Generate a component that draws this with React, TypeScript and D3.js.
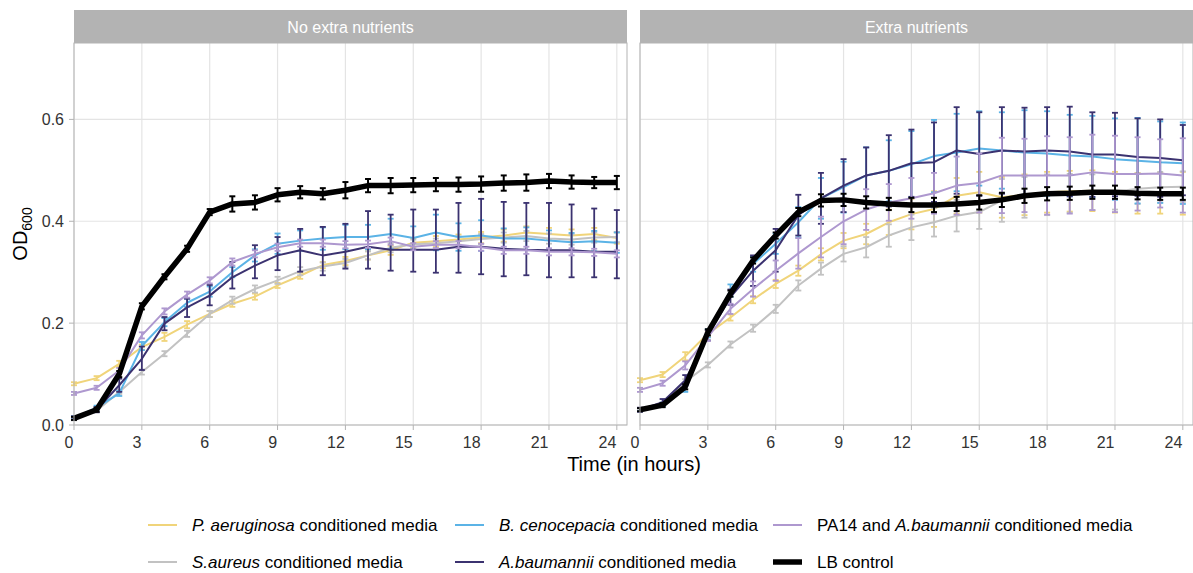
import React from "react";
import * as d3 from "d3";

const hours = d3.range(0, 25);
const panelTitles = ["No extra nutrients", "Extra nutrients"];
const xTicks = [0, 3, 6, 9, 12, 15, 18, 21, 24];
const yTicks = [0, 0.2, 0.4, 0.6];

// ---- No extra nutrients ----
const paerL = [0.081, 0.092, 0.12, 0.153, 0.173, 0.197, 0.218, 0.238, 0.252, 0.274, 0.293, 0.314, 0.322, 0.333, 0.343, 0.358, 0.361, 0.364, 0.368, 0.372, 0.378, 0.375, 0.372, 0.375, 0.367];
const paerLsd = [0.003, 0.004, 0.006, 0.005, 0.008, 0.007, 0.006, 0.006, 0.006, 0.005, 0.006, 0.006, 0.008, 0.008, 0.009, 0.009, 0.01, 0.01, 0.011, 0.012, 0.012, 0.012, 0.012, 0.012, 0.011];
const saurL = [0.012, 0.028, 0.065, 0.104, 0.14, 0.179, 0.218, 0.245, 0.267, 0.284, 0.302, 0.311, 0.318, 0.333, 0.348, 0.355, 0.357, 0.361, 0.365, 0.368, 0.371, 0.366, 0.364, 0.368, 0.369];
const saurLsd = [0.003, 0.003, 0.004, 0.005, 0.005, 0.006, 0.006, 0.007, 0.007, 0.007, 0.008, 0.008, 0.008, 0.008, 0.009, 0.009, 0.009, 0.009, 0.01, 0.01, 0.01, 0.01, 0.01, 0.01, 0.01];
const bcenL = [0.014, 0.034, 0.062, 0.155, 0.202, 0.24, 0.262, 0.3, 0.333, 0.356, 0.362, 0.366, 0.369, 0.369, 0.375, 0.367, 0.378, 0.369, 0.372, 0.366, 0.366, 0.362, 0.359, 0.361, 0.358];
const bcenLsd = [0.003, 0.004, 0.005, 0.008, 0.008, 0.008, 0.01, 0.01, 0.012, 0.02, 0.02, 0.022, 0.024, 0.024, 0.03, 0.023, 0.035, 0.027, 0.03, 0.02, 0.022, 0.02, 0.018, 0.02, 0.02];
const abauL = [0.014, 0.03, 0.078, 0.13, 0.199, 0.231, 0.254, 0.29, 0.313, 0.333, 0.343, 0.333, 0.34, 0.35, 0.344, 0.344, 0.344, 0.35, 0.35, 0.346, 0.344, 0.343, 0.343, 0.34, 0.34];
const abauLhi = [0.017, 0.035, 0.091, 0.154, 0.212, 0.248, 0.275, 0.32, 0.353, 0.369, 0.385, 0.389, 0.395, 0.42, 0.413, 0.423, 0.423, 0.436, 0.444, 0.438, 0.436, 0.436, 0.433, 0.425, 0.422];
const abauLlo = [0.011, 0.025, 0.065, 0.108, 0.186, 0.212, 0.235, 0.268, 0.288, 0.304, 0.301, 0.294, 0.307, 0.307, 0.303, 0.301, 0.299, 0.299, 0.296, 0.292, 0.294, 0.29, 0.29, 0.29, 0.288];
const mixL = [0.062, 0.073, 0.107, 0.176, 0.223, 0.256, 0.284, 0.32, 0.336, 0.349, 0.357, 0.357, 0.354, 0.355, 0.361, 0.35, 0.354, 0.354, 0.349, 0.343, 0.343, 0.34, 0.34, 0.339, 0.336];
const mixLsd = [0.003, 0.004, 0.005, 0.006, 0.006, 0.006, 0.006, 0.007, 0.007, 0.007, 0.007, 0.007, 0.007, 0.007, 0.007, 0.007, 0.007, 0.007, 0.007, 0.007, 0.007, 0.007, 0.007, 0.007, 0.007];
const lbL = [0.013, 0.03, 0.1, 0.233, 0.291, 0.346, 0.418, 0.434, 0.437, 0.452, 0.457, 0.454, 0.461, 0.47, 0.47, 0.471, 0.472, 0.472, 0.473, 0.475, 0.476, 0.479, 0.477, 0.476, 0.476];
const lbLsd = [0.003, 0.004, 0.006, 0.006, 0.005, 0.006, 0.006, 0.015, 0.014, 0.013, 0.012, 0.011, 0.016, 0.013, 0.015, 0.014, 0.013, 0.014, 0.015, 0.015, 0.016, 0.014, 0.013, 0.011, 0.013];

// ---- Extra nutrients ----
const paerR = [0.088, 0.099, 0.135, 0.179, 0.211, 0.246, 0.277, 0.303, 0.335, 0.362, 0.375, 0.398, 0.414, 0.424, 0.45, 0.457, 0.447, 0.452, 0.457, 0.459, 0.46, 0.457, 0.455, 0.455, 0.455];
const paerRsd = [0.004, 0.005, 0.008, 0.006, 0.006, 0.007, 0.008, 0.01, 0.012, 0.015, 0.02, 0.025, 0.03, 0.035, 0.035, 0.04, 0.04, 0.04, 0.04, 0.04, 0.04, 0.04, 0.04, 0.04, 0.042];
const saurR = [0.03, 0.04, 0.085, 0.118, 0.158, 0.19, 0.228, 0.274, 0.307, 0.336, 0.349, 0.372, 0.388, 0.398, 0.411, 0.418, 0.441, 0.447, 0.452, 0.455, 0.457, 0.458, 0.464, 0.467, 0.468];
const saurRsd = [0.003, 0.004, 0.005, 0.005, 0.006, 0.007, 0.008, 0.01, 0.012, 0.015, 0.02, 0.022, 0.025, 0.028, 0.031, 0.033, 0.042, 0.04, 0.04, 0.038, 0.035, 0.035, 0.03, 0.03, 0.03];
const bcenR = [0.03, 0.04, 0.071, 0.18, 0.264, 0.316, 0.356, 0.398, 0.445, 0.467, 0.49, 0.499, 0.512, 0.528, 0.535, 0.543, 0.539, 0.535, 0.533, 0.529, 0.527, 0.522, 0.519, 0.516, 0.514];
const bcenRsd = [0.003, 0.004, 0.006, 0.008, 0.012, 0.015, 0.02, 0.03, 0.04, 0.05, 0.055, 0.06, 0.065, 0.071, 0.076, 0.073, 0.075, 0.083, 0.083, 0.08, 0.08, 0.08, 0.084, 0.08, 0.08];
const abauR = [0.03, 0.045, 0.088, 0.176, 0.251, 0.303, 0.343, 0.412, 0.445, 0.47, 0.49, 0.499, 0.514, 0.516, 0.539, 0.532, 0.539, 0.537, 0.539, 0.537, 0.531, 0.531, 0.526, 0.524, 0.52];
const abauRsd = [0.004, 0.006, 0.01, 0.01, 0.015, 0.03, 0.042, 0.04, 0.05, 0.052, 0.055, 0.07, 0.066, 0.078, 0.085, 0.082, 0.085, 0.086, 0.085, 0.088, 0.083, 0.082, 0.076, 0.076, 0.069];
const mixR = [0.069, 0.082, 0.117, 0.173, 0.228, 0.267, 0.303, 0.337, 0.369, 0.4, 0.423, 0.437, 0.445, 0.455, 0.47, 0.475, 0.49, 0.49, 0.49, 0.49, 0.496, 0.493, 0.493, 0.494, 0.49];
const mixRsd = [0.004, 0.005, 0.008, 0.008, 0.01, 0.015, 0.02, 0.03, 0.04, 0.045, 0.04, 0.036, 0.04, 0.04, 0.057, 0.058, 0.074, 0.072, 0.077, 0.075, 0.074, 0.075, 0.072, 0.067, 0.073];
const lbR = [0.03, 0.039, 0.075, 0.182, 0.258, 0.323, 0.372, 0.418, 0.441, 0.442, 0.437, 0.434, 0.432, 0.432, 0.434, 0.437, 0.442, 0.45, 0.454, 0.455, 0.457, 0.457, 0.455, 0.454, 0.454];
const lbRsd = [0.003, 0.004, 0.005, 0.006, 0.006, 0.006, 0.006, 0.008, 0.012, 0.012, 0.012, 0.012, 0.014, 0.014, 0.014, 0.014, 0.014, 0.014, 0.013, 0.013, 0.013, 0.013, 0.012, 0.012, 0.012];

const seriesNames = ["paer", "saur", "bcen", "abau", "mix", "lb"];
const seriesColors = ["#F0D47A", "#C2C2C2", "#5BB3E6", "#3B3270", "#AE98CF", "#000000"];
const seriesWidths = [2, 2, 2, 2, 2, 5.5];
const panelMeans = [
  [paerL, saurL, bcenL, abauL, mixL, lbL],
  [paerR, saurR, bcenR, abauR, mixR, lbR],
];
const panelSds = [
  [paerLsd, saurLsd, bcenLsd, null, mixLsd, lbLsd],
  [paerRsd, saurRsd, bcenRsd, abauRsd, mixRsd, lbRsd],
];
const panelHi = [
  [null, null, null, abauLhi, null, null],
  [null, null, null, null, null, null],
];
const panelLo = [
  [null, null, null, abauLlo, null, null],
  [null, null, null, null, null, null],
];

const legendLabels = [
  [{ t: "P. aeruginosa", i: true }, { t: " conditioned media", i: false }],
  [{ t: "S.aureus", i: true }, { t: " conditioned media", i: false }],
  [{ t: "B. cenocepacia", i: true }, { t: " conditioned media", i: false }],
  [{ t: "A.baumannii", i: true }, { t: " conditioned media", i: false }],
  [{ t: "PA14 and ", i: false }, { t: "A.baumannii", i: true }, { t: " conditioned media", i: false }],
  [{ t: "LB control", i: false }],
];

const FONT = "'Liberation Sans', Arial, Helvetica, sans-serif";

export default function App() {
  const W = 1193;
  const H = 573;
  const panelX = [74, 640];
  const panelW = 553;
  const top = 43;
  const bottom = 425;
  const y = d3.scaleLinear().domain([0, 0.75]).range([bottom, top]);

  const legendCols = [148, 455, 773];
  const legendRows = [525, 562];

  return (
    <svg
      width={W}
      height={H}
      style={{ position: "absolute", left: 0, top: 0, background: "#fff" }}
      fontFamily={FONT}
    >
      {panelTitles.map((title, p) => {
        const x = d3.scaleLinear().domain([0, 24.45]).range([panelX[p], panelX[p] + panelW]);
        const means = panelMeans[p];
        return (
          <g key={title}>
            <rect x={panelX[p]} y={10} width={panelW} height={top - 10} fill="#b3b3b3" />
            <text
              x={panelX[p] + panelW / 2}
              y={27}
              fill="#ffffff"
              fontSize={16}
              textAnchor="middle"
              dominantBaseline="central"
            >
              {title}
            </text>
            {xTicks.map((t) => (
              <line key={"gx" + t} x1={x(t)} x2={x(t)} y1={top} y2={bottom} stroke="#e4e4e4" strokeWidth={1.2} />
            ))}
            {yTicks.map((t) => (
              <line key={"gy" + t} x1={panelX[p]} x2={panelX[p] + panelW} y1={y(t)} y2={y(t)} stroke="#e4e4e4" strokeWidth={1.2} />
            ))}
            {seriesNames.map((s, si) => {
              const line = d3
                .line<number>()
                .x((_, i) => x(hours[i]))
                .y((v) => y(v));
              const col = seriesColors[si];
              const isLb = s === "lb";
              const m = means[si];
              const sd = panelSds[p][si];
              const hi = panelHi[p][si] || m.map((v, i) => v + (sd ? sd[i] : 0));
              const lo = panelLo[p][si] || m.map((v, i) => v - (sd ? sd[i] : 0));
              return (
                <g key={s}>
                  <path
                    d={line(m) || ""}
                    fill="none"
                    stroke={col}
                    strokeWidth={seriesWidths[si]}
                    strokeLinejoin="round"
                  />
                  {hours.map((h, i) => {
                    const cx = x(h);
                    const y1 = y(hi[i]);
                    const y2 = y(lo[i]);
                    return (
                      <g key={h} stroke={col} strokeWidth={isLb ? 2 : 1.8}>
                        <line x1={cx} x2={cx} y1={y1} y2={y2} />
                        <line x1={cx - 3} x2={cx + 3} y1={y1} y2={y1} />
                        <line x1={cx - 3} x2={cx + 3} y1={y2} y2={y2} />
                      </g>
                    );
                  })}
                </g>
              );
            })}
            <rect
              x={panelX[p]}
              y={top}
              width={panelW}
              height={bottom - top}
              fill="none"
              stroke="#b3b3b3"
              strokeWidth={1}
            />
            {xTicks.map((t) => (
              <g key={"xt" + t}>
                <line x1={x(t)} x2={x(t)} y1={bottom} y2={bottom + 5} stroke="#b3b3b3" strokeWidth={1} />
                <text x={x(t) - 0.5} y={448} fontSize={16} fill="#333333" textAnchor="end">
                  {t}
                </text>
              </g>
            ))}
          </g>
        );
      })}
      {yTicks.map((t) => (
        <g key={"yt" + t}>
          <line x1={69} x2={74} y1={y(t)} y2={y(t)} stroke="#b3b3b3" strokeWidth={1} />
          <text x={64} y={y(t) + 5.8} fontSize={16} fill="#333333" textAnchor="end">
            {t.toFixed(1)}
          </text>
        </g>
      ))}
      <text x={634} y={471} fontSize={20} fill="#000" textAnchor="middle">
        Time (in hours)
      </text>
      <text transform={`translate(27, ${(top + bottom) / 2}) rotate(-90)`} fontSize={20} fill="#000" textAnchor="middle">
        OD
        <tspan fontSize={14} dy={5}>
          600
        </tspan>
      </text>
      {seriesNames.map((s, si) => {
        const col = Math.floor(si / 2);
        const row = si % 2;
        const lx = legendCols[col];
        const ly = legendRows[row];
        return (
          <g key={"lg" + s}>
            <line x1={lx} x2={lx + 29} y1={ly} y2={ly} stroke={seriesColors[si]} strokeWidth={seriesWidths[si]} />
            <text x={lx + 44} y={ly + 6} fontSize={17} fill="#000">
              {legendLabels[si].map((part, k) => (
                <tspan key={k} fontStyle={part.i ? "italic" : "normal"}>
                  {part.t}
                </tspan>
              ))}
            </text>
          </g>
        );
      })}
    </svg>
  );
}
